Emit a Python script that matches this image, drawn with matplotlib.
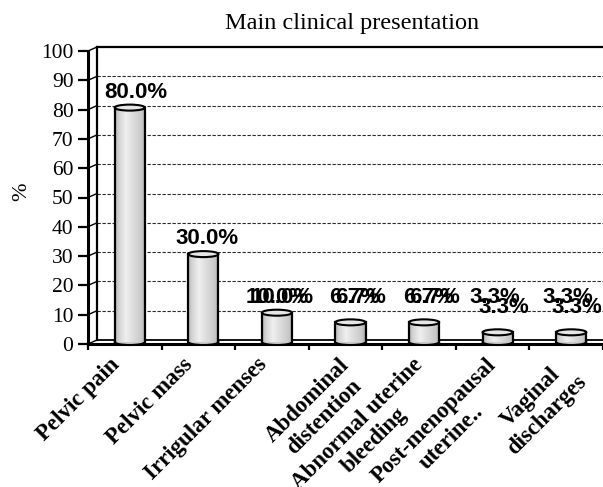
import numpy as np
import matplotlib
matplotlib.use("Agg")
import matplotlib.pyplot as plt
from matplotlib.patches import Rectangle, Ellipse
from matplotlib.lines import Line2D
from matplotlib.transforms import offset_copy, IdentityTransform
from matplotlib.colors import LinearSegmentedColormap

# ---------------- data ----------------
categories = ["Pelvic pain", "Pelvic mass", "Irrigular menses",
              "Abdominal\ndistention", "Abnormal uterine\nbleeding",
              "Post-menopausal\nuterine..", "Vaginal\ndischarges"]
values = [80.0, 30.0, 10.0, 6.7, 6.7, 3.3, 3.3]
value_labels = ["80.0%", "30.0%", "10.0%", "6.7%", "6.7%", "3.3%", "3.3%"]
yticks = [0, 10, 20, 30, 40, 50, 60, 70, 80, 90, 100]
title = "Main clinical presentation"
ylabel = "%"

# ---------------- layout ----------------
W, H = 603, 487
DPI = 100
fig = plt.figure(figsize=(W / DPI, H / DPI), dpi=DPI)
fig.patch.set_facecolor("white")
L, R, B, T = 88, 603, 344, 51
ax = fig.add_axes([L / W, (H - B) / H, (R - L) / W, (B - T) / H])
n = len(categories)
ax.set_xlim(0, n)
ax.set_ylim(0, 100)
ax.set_facecolor("none")

serif = "Liberation Serif"
sans = "Liberation Sans"

DX, DY = 9, 4          # depth offset of back wall (pixels)
back = offset_copy(ax.transData, fig=fig, x=DX, y=DY, units="dots")
mid = offset_copy(ax.transData, fig=fig, x=5, y=2, units="dots")

# back wall grid lines
for v in yticks[1:-1]:
    ax.plot([0, n], [v, v], transform=back, ls=(0, (3, 1.5)), color="#2a2a2a",
            lw=0.8, clip_on=False, zorder=1)
# back wall frame
ax.plot([0, n + 1], [100, 100], transform=back, color="black", lw=1.6, clip_on=False, zorder=1)
ax.plot([0, 0], [0, 100], transform=back, color="black", lw=1.6, clip_on=False, zorder=1)
ax.plot([0, n + 1], [0, 0], transform=back, color="black", lw=1.3, clip_on=False, zorder=1)

# diagonal connectors at each y tick
fig.canvas.draw()
for v in yticks:
    x0, y0 = ax.transData.transform((0, v))
    ax.add_line(Line2D([x0, x0 + DX], [y0, y0 + DY], transform=IdentityTransform(),
                       color="black", lw=1.0, zorder=1, clip_on=False))

# ---------------- cylinders ----------------
grad_cmap = LinearSegmentedColormap.from_list(
    "cyl", [(0.0, "#b4b4b4"), (0.12, "#d4d4d4"), (0.35, "#efefef"),
            (0.6, "#dcdcdc"), (0.88, "#c8c8c8"), (1.0, "#a4a4a4")])
grad = np.linspace(0, 1, 64).reshape(1, -1)
bw = 0.41
eh = 6 / ((B - T) / 100.0)   # ellipse height in data units (~6 px)

for i, v in enumerate(values):
    xc = i + 0.5
    body = Rectangle((xc - bw / 2, 0), bw, v, transform=mid, facecolor="#d6d6d6",
                     edgecolor="none", zorder=3, clip_on=False)
    ax.add_patch(body)
    im = ax.imshow(grad, extent=(xc - bw / 2, xc + bw / 2, 0, v), aspect="auto",
                   cmap=grad_cmap, vmin=0, vmax=1, transform=mid, zorder=3.1,
                   interpolation="bilinear")
    im.set_clip_path(body)
    ax.add_patch(Ellipse((xc, 0), bw, eh, transform=mid, facecolor="#cacaca",
                         edgecolor="black", lw=1.5, zorder=2.9, clip_on=False))
    ax.plot([xc - bw / 2, xc - bw / 2], [0, v], transform=mid, color="black", lw=1.6,
            zorder=3.2, clip_on=False)
    ax.plot([xc + bw / 2, xc + bw / 2], [0, v], transform=mid, color="black", lw=1.6,
            zorder=3.2, clip_on=False)
    ax.add_patch(Ellipse((xc, v), bw, eh, transform=mid, facecolor="#e6e6e6",
                         edgecolor="black", lw=1.5, zorder=3.3, clip_on=False))

ax.set_xlim(0, n)
ax.set_ylim(0, 100)

# ---------------- data labels (with the ghosted duplicates of the original) ----------------
label_offsets = [[(11, 0)], [(9, 0)], [(5, 0), (10, 0)], [(9, 0), (15, 0)],
                 [(9, 0), (15, 0)], [(2, 0), (11, -10)], [(2, 0), (11, -10)]]
for i, (v, lab) in enumerate(zip(values, value_labels)):
    ly = max(v + 6, 16)
    for dx, dy in label_offsets[i]:
        tr = offset_copy(ax.transData, fig=fig, x=dx, y=dy, units="dots")
        ax.text(i + 0.5, ly, lab, transform=tr, ha="center", va="center",
                fontsize=16, fontweight="bold", family=sans, color="black",
                zorder=5, clip_on=False)

# ---------------- axes styling ----------------
for s in ["top", "right"]:
    ax.spines[s].set_visible(False)
for s in ["left", "bottom"]:
    ax.spines[s].set_linewidth(2.2)
    ax.spines[s].set_color("black")
    ax.spines[s].set_zorder(2.5)

ax.set_yticks(yticks)
ax.set_yticklabels([str(t) for t in yticks], family=serif, fontsize=15.5)
ax.tick_params(axis="y", direction="out", length=7.5, width=1.6, pad=3)

ax.set_xticks(np.arange(0, n + 1))
ax.set_xticklabels([])
ax.tick_params(axis="x", which="major", direction="out", length=4, width=1.6)

# category labels, rotated 45 degrees, anchored at their top-right corner
for i, c in enumerate(categories):
    extra = 9 * (c.count("\n"))
    cat_tr = offset_copy(ax.transData, fig=fig, x=-16 + extra, y=-10, units="dots")
    ax.text(i + 0.5, 0, c, transform=cat_tr, rotation=45, ha="right", va="top",
            rotation_mode="anchor", multialignment="center", family=serif,
            fontsize=16.5, fontweight="bold", clip_on=False)

fig.text(22 / W, 1 - 192 / H, ylabel, rotation=90, ha="center", va="center",
         family=serif, fontsize=16)
fig.text(352 / W, 1 - 23 / H, title, ha="center", va="center", family=serif, fontsize=17.5)

fig.savefig("out.png", dpi=DPI, facecolor="white")
